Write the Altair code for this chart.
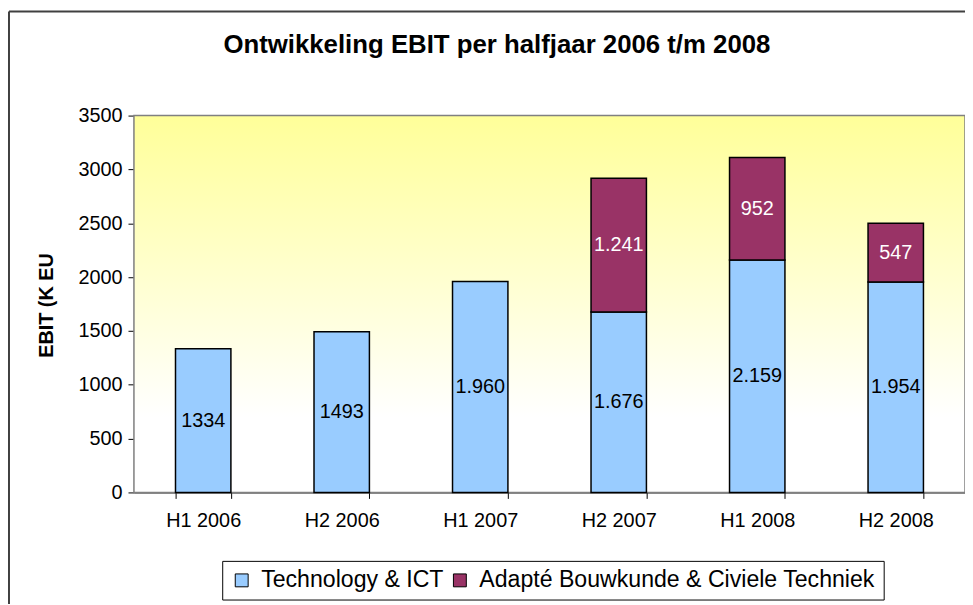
import altair as alt
import pandas as pd

periods = ["H1 2006", "H2 2006", "H1 2007", "H2 2007", "H1 2008", "H2 2008"]
series_names = ["Technology & ICT", "Adapté Bouwkunde & Civiele Techniek"]
tech_values = [1334, 1493, 1960, 1676, 2159, 1954]
tech_labels = ["1334", "1493", "1.960", "1.676", "2.159", "1.954"]
adapte_periods = ["H2 2007", "H1 2008", "H2 2008"]
adapte_values = [1241, 952, 547]
adapte_labels = ["1.241", "952", "547"]
y_ticks = [0, 500, 1000, 1500, 2000, 2500, 3000, 3500]

rows = []
for p, v, l in zip(periods, tech_values, tech_labels):
    rows.append({"period": p, "series": series_names[0], "idx": 0, "value": v, "label": l})
for p, v, l in zip(adapte_periods, adapte_values, adapte_labels):
    rows.append({"period": p, "series": series_names[1], "idx": 1, "value": v, "label": l})
df = pd.DataFrame(rows)

FONT = "Liberation Sans"

x_enc = alt.X(
    "period:N",
    sort=periods,
    title=None,
    scale=alt.Scale(paddingInner=0.6, paddingOuter=0.3),
    axis=alt.Axis(
        labelAngle=0, labelFontSize=20, labelFont=FONT, labelColor="black",
        tickBand="extent", tickSize=6, tickColor="black", domainColor="black",
        labelPadding=12, grid=False,
    ),
)

base = alt.Chart(df)

gradient = alt.LinearGradient(
    gradient="linear", x1=0, y1=0, x2=0, y2=1,
    stops=[
        alt.GradientStop(offset=0, color="#FFFF99"),
        alt.GradientStop(offset=0.8, color="#FFFFFF"),
        alt.GradientStop(offset=1, color="#FFFFFF"),
    ],
)

frame_df = pd.DataFrame({"a": [0]})
backdrop = alt.Chart(frame_df).mark_rect(color=gradient, stroke="#808080", strokeWidth=1.5).encode(
    x=alt.value(0), x2=alt.value("width"), y=alt.value(0), y2=alt.value("height")
)

bars = base.mark_bar(stroke="black", strokeWidth=1.5).encode(
    x=x_enc,
    y=alt.Y(
        "value:Q",
        stack="zero",
        scale=alt.Scale(domain=[0, 3500], nice=False),
        axis=alt.Axis(
            values=y_ticks, format="d", labelFontSize=20, labelFont=FONT, labelColor="black",
            tickSize=6, tickColor="black", domainColor="black", labelPadding=6,
            grid=False, title="EBIT (K EU", titleFont=FONT, titleFontSize=20,
            titleFontWeight="bold", titleColor="black", titleX=-88, titleY=191,
            titleAlign="center", titleBaseline="middle", titleAngle=-90,
        ),
    ),
    color=alt.Color(
        "series:N",
        scale=alt.Scale(domain=series_names, range=["#99CCFF", "#993366"]),
        legend=alt.Legend(
            title=None, orient="none", legendX=89, legendY=449,
            direction="horizontal", strokeColor="black", fillColor="white",
            padding=8, symbolType="square", symbolSize=169,
            symbolStrokeColor="black", symbolStrokeWidth=1,
            labelFontSize=23.3, labelFont=FONT, labelColor="black",
            labelLimit=600, columnPadding=4, labelOffset=8,
        ),
    ),
    order=alt.Order("idx:Q", sort="ascending"),
)

texts = base.transform_stack(
    stack="value", groupby=["period"], sort=[alt.SortField("idx")], as_=["v0", "v1"]
).transform_calculate(
    mid="(datum.v0 + datum.v1) / 2"
).mark_text(fontSize=20, font=FONT).encode(
    x=alt.X("period:N", sort=periods),
    y=alt.Y("mid:Q"),
    text="label:N",
    color=alt.condition(
        "datum.idx == 1", alt.value("white"), alt.value("black")
    ),
)

frame_top = alt.Chart(frame_df).mark_rule(color="#404040", strokeWidth=2).encode(
    x=alt.value(-126), x2=alt.value(860), y=alt.value(-105)
)
frame_left = alt.Chart(frame_df).mark_rule(color="#404040", strokeWidth=2).encode(
    x=alt.value(-126), y=alt.value(-105), y2=alt.value(500)
)

chart = alt.layer(backdrop, bars, texts, frame_top, frame_left).properties(
    width=838,
    height=380,
    title=alt.TitleParams(
        "Ontwikkeling EBIT per halfjaar 2006 t/m 2008",
        fontSize=26, font=FONT, fontWeight="bold", color="black",
        anchor="middle", frame="group", dx=-53, offset=-48,
    ),
    autosize=alt.AutoSizeParams(type="none"),
    padding={"left": 127, "top": 106, "right": 0, "bottom": 110},
).configure_view(
    stroke=None,
).configure(background="white")

chart.save("out.html", embed_options={"renderer": "svg", "actions": False})
